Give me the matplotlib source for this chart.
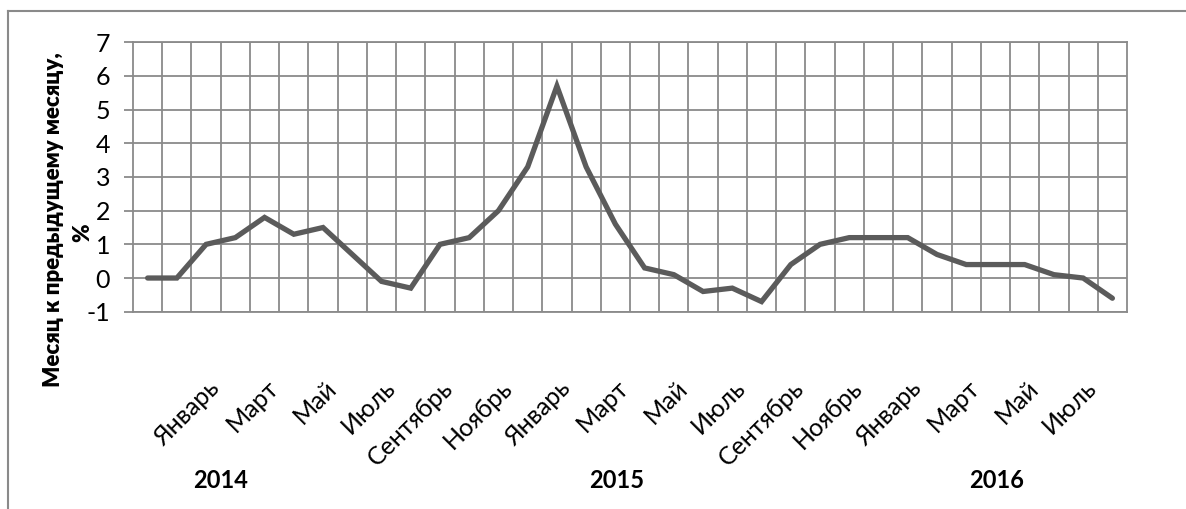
import matplotlib
matplotlib.use("Agg")
import matplotlib.pyplot as plt
import matplotlib.transforms as mtransforms

# ---- data ----
months = ["Ноябрь", "Декабрь",
          "Январь", "Февраль", "Март", "Апрель", "Май", "Июнь",
          "Июль", "Август", "Сентябрь", "Октябрь", "Ноябрь", "Декабрь",
          "Январь", "Февраль", "Март", "Апрель", "Май", "Июнь",
          "Июль", "Август", "Сентябрь", "Октябрь", "Ноябрь", "Декабрь",
          "Январь", "Февраль", "Март", "Апрель", "Май", "Июнь",
          "Июль", "Август"]
values = [0, 0, 1.0, 1.2, 1.8, 1.3, 1.5, 0.7, -0.1, -0.3,
          1.0, 1.2, 2.0, 3.3, 5.7, 3.3, 1.6, 0.3, 0.1, -0.4,
          -0.3, -0.7, 0.4, 1.0, 1.2, 1.2, 1.2, 0.7, 0.4, 0.4,
          0.4, 0.1, 0.0, -0.6]
years = ["2014", "2015", "2016"]
y_ticks = [-1, 0, 1, 2, 3, 4, 5, 6, 7]
y_title = "Месяц к предыдущему месяцу,"

# ---- layout / style ----
FONT = ["Lato", "DejaVu Sans"]
plt.rcParams["font.family"] = FONT
W, H = 1186, 509
fig = plt.figure(figsize=(W / 100, H / 100), dpi=100)
ax_l, ax_r, ax_t, ax_b = 133, 1127, 42.3, 311.7
ax = fig.add_axes([ax_l / W, 1 - ax_b / H, (ax_r - ax_l) / W, (ax_b - ax_t) / H])

grid_c = "#8a8a8a"
line_c = "#5b5b5b"

x = list(range(len(values)))
ax.plot(x, values, color=line_c, lw=3.8, solid_capstyle="round",
        solid_joinstyle="miter", zorder=3)

ax.set_xlim(-0.5, len(values) - 0.5)
ax.set_ylim(y_ticks[0], y_ticks[-1])

# horizontal grid + y ticks
ax.set_yticks(y_ticks)
ax.set_yticklabels([str(v) for v in y_ticks])
ax.yaxis.grid(True, color=grid_c, lw=1.3)
ax.tick_params(axis="y", length=6.5, width=1.3, color=grid_c,
               labelsize=18, pad=10, labelcolor="black")

# vertical grid at category boundaries
ax.set_xticks([i + 0.5 for i in range(len(values) - 1)], minor=True)
ax.xaxis.grid(True, which="minor", color=grid_c, lw=1.3)
ax.set_xticks([])
ax.tick_params(axis="x", which="both", length=0)
ax.set_axisbelow(True)

for s in ax.spines.values():
    s.set_color(grid_c)
    s.set_linewidth(1.3)

# month labels (every second category starting at January 2014)
trans = mtransforms.blended_transform_factory(ax.transData, ax.transAxes)
lab_y = (ax_b - 376) / (ax_b - ax_t)
for i in range(2, len(months), 2):
    ax.text(i + 0.05, lab_y, months[i], transform=trans, rotation=45,
            rotation_mode="anchor", ha="right", va="top", fontsize=18,
            family=FONT)

# year labels
year_x = [2.48, 16.06, 29.05]
yr_y = (ax_b - 480) / (ax_b - ax_t)
for yx, yl in zip(year_x, years):
    ax.text(yx, yr_y, yl, transform=trans, ha="center", va="center",
            fontsize=17, fontweight="bold", family=FONT)

# y axis title (two lines)
fig.text(54 / W, 1 - 220 / H, y_title, rotation=90, ha="center",
         va="center", fontsize=16, fontweight="heavy", family=FONT)
fig.text(83 / W, 1 - 233 / H, "%", rotation=90, ha="center",
         va="center", fontsize=16, fontweight="heavy", family=FONT)

# chart border (top and left visible)
fig.add_artist(plt.Line2D([8 / W, 8 / W], [0, 1 - 10.5 / H],
                          transform=fig.transFigure, color=grid_c, lw=1.5))
fig.add_artist(plt.Line2D([8 / W, 1], [1 - 10.5 / H, 1 - 10.5 / H],
                          transform=fig.transFigure, color=grid_c, lw=1.5))

fig.savefig("out.png", dpi=100, facecolor="white")
